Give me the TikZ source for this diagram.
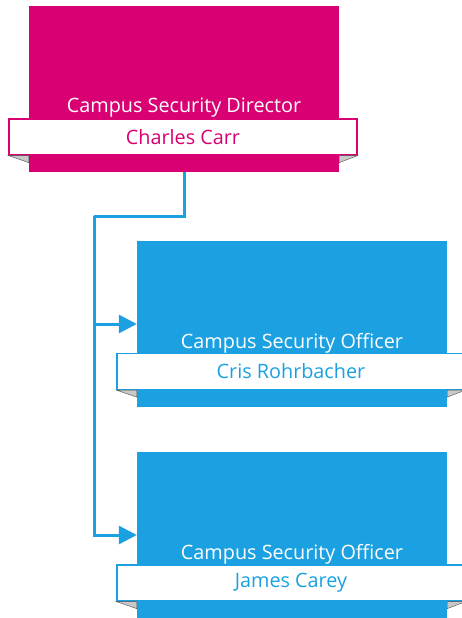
\documentclass[tikz,border=0pt]{standalone}
\usepackage{fontspec}
\setmainfont{Open Sans}
\usetikzlibrary{arrows.meta}

\definecolor{dirmagenta}{HTML}{D80073}
\definecolor{offblue}{HTML}{1BA1E2}
\definecolor{foldgray}{HTML}{C8C8C8}

\tikzset{
  unitbox/.style={rectangle, inner sep=0pt, minimum width=310pt, minimum height=166pt, fill=#1},
  nameband/.style={rectangle, inner sep=0pt, minimum width=348pt, minimum height=36pt,
    fill=white, draw=#1, line width=1.2pt, text=#1, font=\fontsize{19.8}{23}\selectfont},
  titletext/.style={text=white, inner sep=0pt, font=\fontsize{19.8}{23}\selectfont},
  conn/.style={draw=offblue, line width=3pt},
  fold/.style={fill=foldgray, draw=black!70, line width=0.4pt}
}

\begin{document}
\begin{tikzpicture}[x=1pt,y=-1pt]
    \useasboundingbox (0,0) rectangle (461,618);

    % Director
    \node[unitbox=dirmagenta] (dir) at (184,89) {};
    \node[nameband=dirmagenta] (dirname) at (183,137) {Charles Carr};
    \node[titletext] (dirtitle) at (184,108) {Campus Security Director};
    \filldraw[fold] (dirname.south west) -- (dir.west |- dirname.south) -- ++(0,7) -- cycle;
    \filldraw[fold] (dirname.south east) -- (dir.east |- dirname.south) -- ++(0,7) -- cycle;

    % First officer
    \node[unitbox=offblue] (off1) at (292,324) {};
    \node[nameband=offblue] (off1name) at (291,371.5) {Cris Rohrbacher};
    \node[titletext] (off1title) at (292,343) {Campus Security Officer};
    \filldraw[fold] (off1name.south west) -- (off1.west |- off1name.south) -- ++(0,7) -- cycle;
    \filldraw[fold] (off1name.south east) -- (off1.east |- off1name.south) -- ++(0,7) -- cycle;

    % Second officer
    \node[unitbox=offblue] (off2) at (292,535) {};
    \node[nameband=offblue] (off2name) at (291,583) {James Carey};
    \node[titletext] (off2title) at (292,554) {Campus Security Officer};
    \filldraw[fold] (off2name.south west) -- (off2.west |- off2name.south) -- ++(0,7) -- cycle;
    \filldraw[fold] (off2name.south east) -- (off2.east |- off2name.south) -- ++(0,7) -- cycle;

    % Connectors
    \coordinate (bus) at (94,216);
    \draw[conn] (dir.south) |- (bus);
    \draw[conn, -{Triangle[length=18pt, width=18pt]}] (bus) |- (off1.west);
    \draw[conn, -{Triangle[length=18pt, width=18pt]}] (bus) |- (off2.west);
\end{tikzpicture}
\end{document}
